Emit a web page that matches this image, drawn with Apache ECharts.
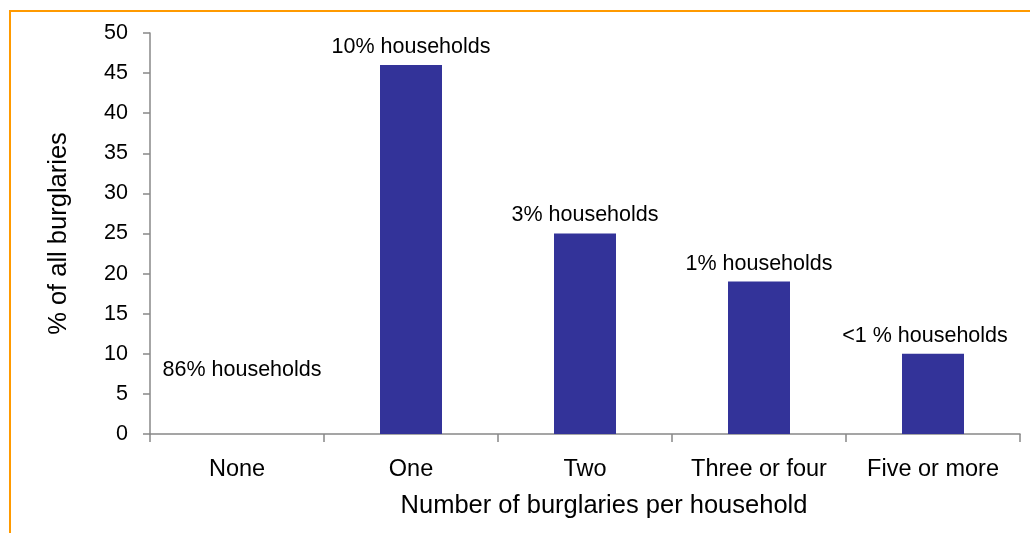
<!DOCTYPE html>
<html>
<head>
<meta charset="utf-8">
<script src="https://cdn.jsdelivr.net/npm/echarts@6/dist/echarts.min.js"></script>
<style>
  html, body { margin: 0; padding: 0; background: #fff; }
  #chart { width: 1030px; height: 533px; }
</style>
</head>
<body>
<div id="chart"></div>
<script>
// Share of all burglaries by number of burglaries experienced per household
const categories = ['None', 'One', 'Two', 'Three or four', 'Five or more'];
const burglaryShare = [0, 46, 25, 19, 10];
const householdLabels = ['86% households', '10% households', '3% households', '1% households', '<1 % households'];
const yTicks = { min: 0, max: 50, interval: 5 };

const font = 'Liberation Sans, Arial, sans-serif';
const chart = echarts.init(document.getElementById('chart'), null, { renderer: 'canvas' });

// per-bar label nudges: the empty "None" column carries its label higher up
const labelOffsets = [[5, -46], null, null, null, [-8, 0]];
const seriesData = burglaryShare.map((v, i) => {
  const item = { value: v };
  if (labelOffsets[i]) item.label = { offset: labelOffsets[i] };
  return item;
});

chart.setOption({
  animation: false,
  backgroundColor: '#fff',
  graphic: [{
    type: 'rect',
    shape: { x: 10, y: 11, width: 1040, height: 560 },
    style: { fill: 'none', stroke: '#FF9A00', lineWidth: 2 }
  }],
  grid: { left: 150, right: 10, top: 33, bottom: 99, containLabel: false },
  xAxis: {
    type: 'category',
    data: categories,
    axisLine: { lineStyle: { color: '#888', width: 1.5 } },
    axisTick: { show: true, interval: 0, alignWithLabel: false, length: 8, lineStyle: { color: '#888', width: 1.5 } },
    axisLabel: { interval: 0, hideOverlap: false, color: '#000', fontFamily: font, fontSize: 23.5, margin: 24 },
    name: 'Number of burglaries per household',
    nameLocation: 'middle',
    nameGap: 59,
    nameTextStyle: { color: '#000', fontFamily: font, fontSize: 25.5, padding: [0, 0, 0, 38] }
  },
  yAxis: {
    type: 'value',
    min: yTicks.min,
    max: yTicks.max,
    interval: yTicks.interval,
    splitLine: { show: false },
    axisLine: { show: true, lineStyle: { color: '#888', width: 1.5 } },
    axisTick: { show: true, length: 7, lineStyle: { color: '#888', width: 1.5 } },
    axisLabel: { color: '#000', fontFamily: font, fontSize: 21.5, margin: 22 },
    name: '% of all burglaries',
    nameLocation: 'middle',
    nameGap: 78,
    nameRotate: 90,
    nameTextStyle: { color: '#000', fontFamily: font, fontSize: 25.5 }
  },
  series: [{
    type: 'bar',
    data: seriesData,
    barWidth: 62,
    itemStyle: { color: '#333399' },
    label: {
      show: true,
      position: 'top',
      distance: 7,
      color: '#000',
      fontFamily: font,
      fontSize: 21.5,
      formatter: p => householdLabels[p.dataIndex]
    }
  }]
});
</script>
</body>
</html>
